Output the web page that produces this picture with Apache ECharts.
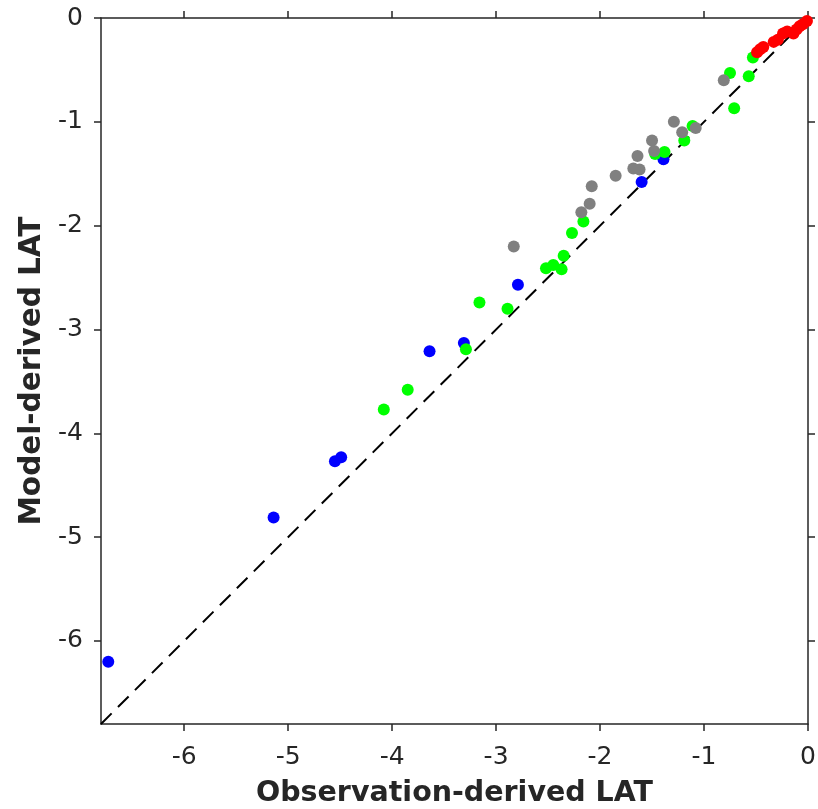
<!DOCTYPE html>
<html>
<head>
<meta charset="utf-8">
<script src="https://cdn.jsdelivr.net/npm/echarts@6/dist/echarts.min.js"></script>
<style>
html, body { margin: 0; padding: 0; background: #fff; }
#main { width: 818px; height: 809px; }
</style>
</head>
<body>
<div id="main"></div>
<script>
// axis ticks
var xTicks = [-6, -5, -4, -3, -2, -1, 0];
var yTicks = [-6, -5, -4, -3, -2, -1, 0];
var axisMin = -6.8;
var axisMax = 0;

// 1:1 line
var diagLine = [[-6.8, -6.8], [0, 0]];

// points [observation, model]
var bluePts = [
	[-6.73, -6.20], [-5.14, -4.81], [-4.55, -4.27], [-4.49, -4.23],
	[-3.64, -3.21], [-3.31, -3.13], [-2.79, -2.57], [-1.60, -1.58],
	[-1.39, -1.36]
];
var greenPts = [
	[-4.08, -3.77], [-3.85, -3.58], [-3.29, -3.19], [-3.16, -2.74],
	[-2.89, -2.80], [-2.52, -2.41], [-2.45, -2.38], [-2.37, -2.42],
	[-2.35, -2.29], [-2.27, -2.07], [-2.16, -1.96], [-1.47, -1.31],
	[-1.38, -1.29], [-1.19, -1.18], [-1.11, -1.04], [-0.75, -0.53],
	[-0.71, -0.87], [-0.57, -0.56], [-0.53, -0.38]
];
var grayPts = [
	[-2.83, -2.20], [-2.18, -1.87], [-2.10, -1.79], [-2.08, -1.62],
	[-1.85, -1.52], [-1.68, -1.45], [-1.62, -1.46], [-1.64, -1.33],
	[-1.50, -1.18], [-1.48, -1.28], [-1.29, -1.00], [-1.21, -1.10],
	[-1.08, -1.06], [-0.81, -0.60]
];
var redPts = [
	[-0.49, -0.33], [-0.46, -0.30], [-0.43, -0.28], [-0.33, -0.23],
	[-0.29, -0.21], [-0.24, -0.15], [-0.20, -0.13], [-0.14, -0.15],
	[-0.11, -0.11], [-0.08, -0.08], [-0.05, -0.06], [-0.01, -0.03]
];

var axisColor = '#262626';
var fontName = 'DejaVu Sans';

function dotSeries(data, color) {
	return {
		type : 'scatter',
		data : data,
		symbol : 'circle',
		symbolSize : 12,
		itemStyle : { color : color, opacity : 1 },
		xAxisIndex : 0,
		yAxisIndex : 0,
		z : 3
	};
}

function boxAxis(pos, ticks, main) {
	var ax = {
		type : 'value',
		position : pos,
		min : axisMin,
		max : axisMax,
		axisLine : { show : true, onZero : false, lineStyle : { color : axisColor, width : 1.5 } },
		axisTick : { show : true, inside : false, length : 7, customValues : ticks, lineStyle : { color : axisColor, width : 1.5 } },
		splitLine : { show : false },
		axisLabel : { show : false }
	};
	if (main) {
		ax.axisLabel = {
			show : true,
			customValues : ticks,
			color : axisColor,
			fontFamily : fontName,
			fontSize : 25,
			margin : pos == 'bottom' ? 21 : 18
		};
	}
	return ax;
}

var myChart = echarts.init(document.getElementById('main'));

var xMain = boxAxis('bottom', xTicks, true);
xMain.name = 'Observation-derived LAT';
xMain.nameLocation = 'middle';
xMain.nameGap = 55;
xMain.nameTextStyle = { color : axisColor, fontFamily : fontName, fontWeight : 'bold', fontSize : 28.5 };

var yMain = boxAxis('left', yTicks, true);
yMain.name = 'Model-derived LAT';
yMain.nameLocation = 'middle';
yMain.nameGap = 48;
yMain.nameTextStyle = { color : axisColor, fontFamily : fontName, fontWeight : 'bold', fontSize : 29.5 };

var option = {
	animation : false,
	backgroundColor : '#ffffff',
	grid : {
		left : 101,
		right : 10,
		top : 18,
		bottom : 85,
		containLabel : false,
		outerBoundsMode : 'none'
	},
	xAxis : [ xMain, boxAxis('top', xTicks, false) ],
	yAxis : [ yMain, boxAxis('right', yTicks, false) ],
	series : [
		{
			type : 'line',
			data : diagLine,
			symbol : 'none',
			silent : true,
			lineStyle : { color : '#000000', width : 2, type : [15, 9] },
			z : 2
		},
		dotSeries(bluePts, '#0000ff'),
		dotSeries(greenPts, '#00ff00'),
		dotSeries(grayPts, '#808080'),
		dotSeries(redPts, '#ff0000')
	]
};
myChart.setOption(option);
</script>
</body>
</html>
